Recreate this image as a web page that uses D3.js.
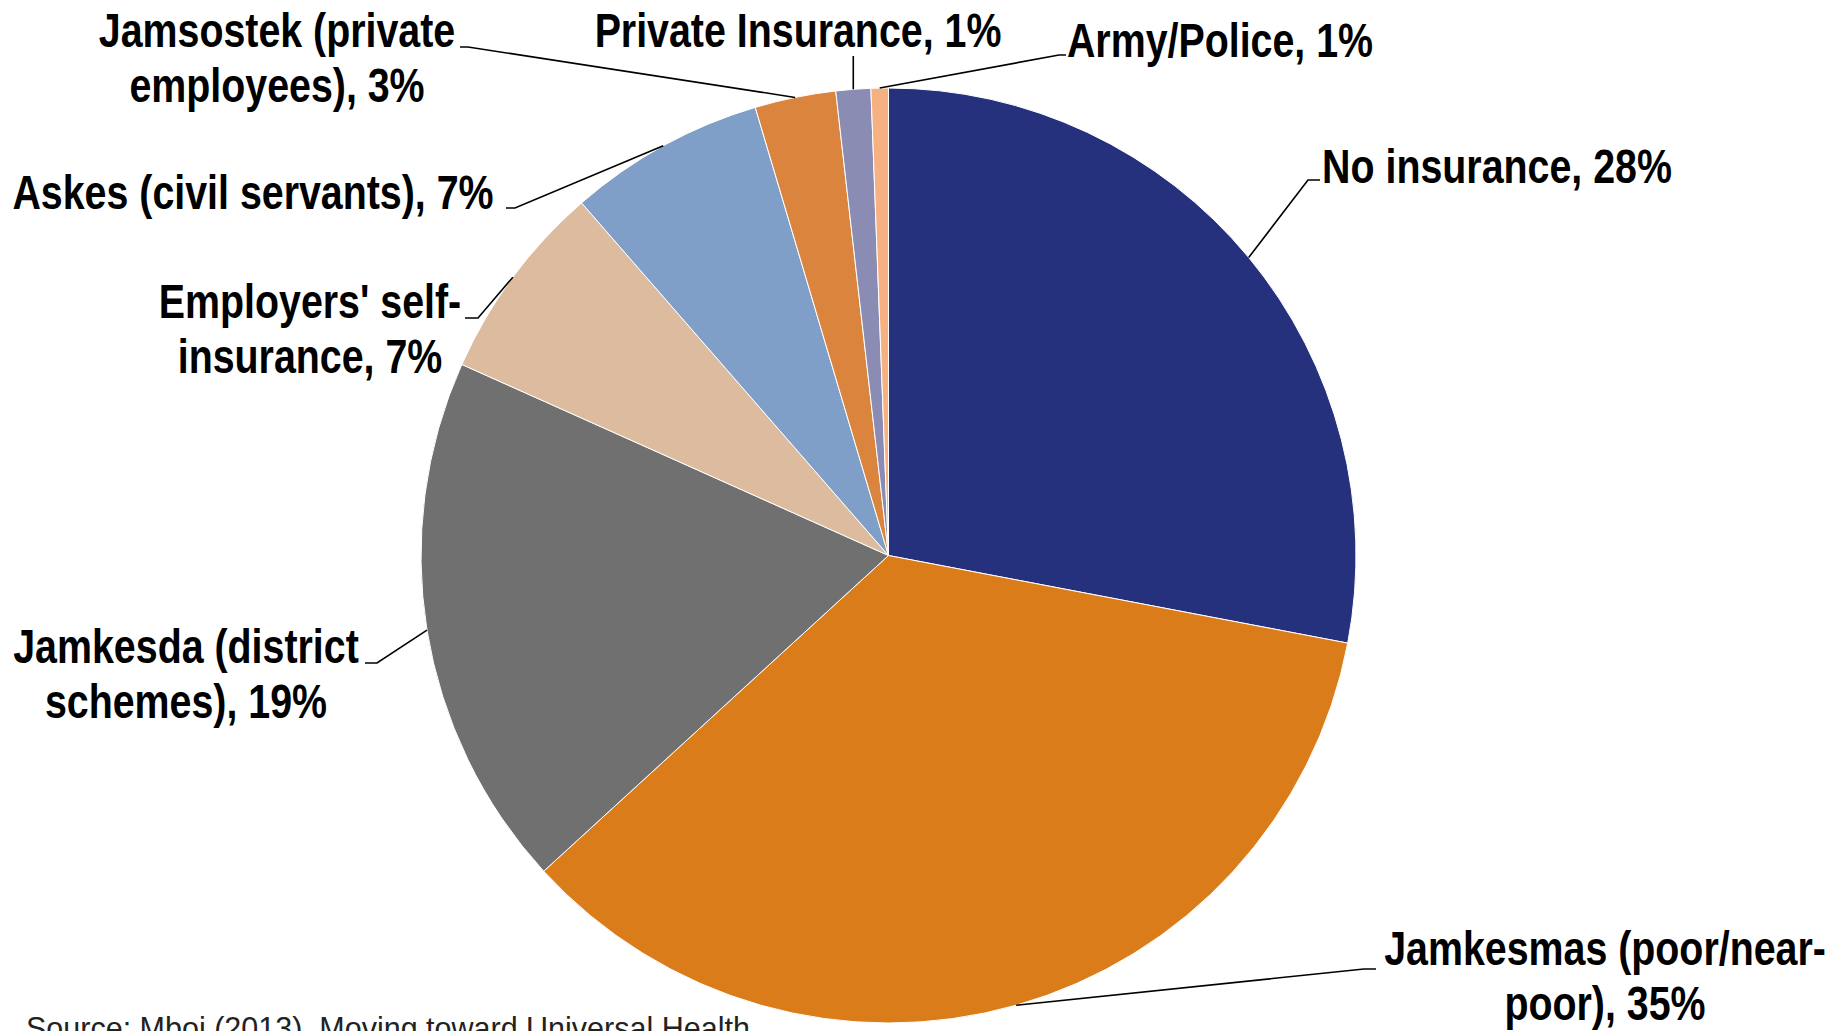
<!DOCTYPE html>
<html>
<head>
<meta charset="utf-8">
<script src="https://cdn.jsdelivr.net/npm/d3@7"></script>
<style>
  html, body { margin: 0; padding: 0; background: #fff; overflow: hidden; }
  svg { display: block; }
</style>
</head>
<body>
<svg id="chart"></svg>
<script>
// Health insurance coverage in Indonesia, share of population (%)
const categories = [
  "No insurance",
  "Jamkesmas (poor/near-poor)",
  "Jamkesda (district schemes)",
  "Employers' self-insurance",
  "Askes (civil servants)",
  "Jamsostek (private employees)",
  "Private Insurance",
  "Army/Police"
];
const values = [28.0, 35.2, 18.5, 6.9, 6.8, 2.8, 1.2, 0.6];
const labelText = [
  ["No insurance, 28%"],
  ["Jamkesmas (poor/near-", "poor), 35%"],
  ["Jamkesda (district", "schemes), 19%"],
  ["Employers' self-", "insurance, 7%"],
  ["Askes (civil servants), 7%"],
  ["Jamsostek (private", "employees), 3%"],
  ["Private Insurance, 1%"],
  ["Army/Police, 1%"]
];
const colors = ["#26317d", "#db7c1a", "#707070", "#ddbb9e", "#7f9fc9", "#db843d", "#8a8cb3", "#f6b183"];
const sourceText = "Source: Mboi (2013), Moving toward Universal Health";

// label placement: text centre x, first baseline y, leader elbow and end
const labelLayout = [
  { cx: 1497, y: 183, elbow: [1308, 180], end: [1320, 180] },
  { cx: 1605, y: 965, elbow: [1364, 969], end: [1376, 969] },
  { cx: 186,  y: 663, elbow: [377, 663],  end: [365, 663] },
  { cx: 310,  y: 318, elbow: [478, 318],  end: [465, 318] },
  { cx: 253,  y: 209, elbow: [515, 208],  end: [506, 208] },
  { cx: 277,  y: 47,  elbow: [468, 47],   end: [460, 47] },
  { cx: 798,  y: 47,  elbow: null,        end: null, vertical: 56 },
  { cx: 1220, y: 57,  elbow: [1059, 55],  end: [1066, 55] }
];

const W = 1835, H = 1031;
const cx = 888.5, cy = 555.5, R = 467.5;
const NARROW = 0.82; // Arial Narrow ~ Arial squeezed horizontally

const svg = d3.select("#chart").attr("width", W).attr("height", H).attr("viewBox", `0 0 ${W} ${H}`);

const data = categories.map((c, i) => ({ name: c, value: values[i], i }));
const pie = d3.pie().value(d => d.value).sort(null);
const arcs = pie(data);
const arc = d3.arc().innerRadius(0).outerRadius(R);

const g = svg.append("g").attr("transform", `translate(${cx},${cy})`);

g.selectAll("path.slice")
  .data(arcs).join("path")
  .attr("class", "slice")
  .attr("d", arc)
  .attr("fill", d => colors[d.data.i])
  .attr("stroke", "#fff")
  .attr("stroke-width", 1);

// leader lines
arcs.forEach(a => {
  const L = labelLayout[a.data.i];
  const mid = (a.startAngle + a.endAngle) / 2;
  const px = cx + R * Math.sin(mid), py = cy - R * Math.cos(mid);
  let pts;
  if (L.vertical != null) pts = [[px, py], [px, L.vertical]];
  else pts = [[px, py], L.elbow, L.end];
  svg.append("path")
    .attr("d", d3.line()(pts))
    .attr("fill", "none")
    .attr("stroke", "#000")
    .attr("stroke-width", 1.6);
});

// labels
labelLayout.forEach((L, i) => {
  const t = svg.append("text")
    .attr("transform", `translate(${L.cx},${L.y}) scale(${NARROW},1)`)
    .attr("text-anchor", "middle")
    .style("font-family", "'Liberation Sans',Arial,sans-serif")
    .style("font-weight", "bold")
    .style("font-size", "48px")
    .style("fill", "#000");
  labelText[i].forEach((line, j) => {
    t.append("tspan").attr("x", 0).attr("y", j * 55).text(line);
  });
});

svg.append("text")
  .attr("x", 26).attr("y", 1039)
  .style("font-family", "'Liberation Sans',Arial,sans-serif")
  .style("font-size", "30.5px")
  .style("fill", "#222")
  .text(sourceText);
</script>
</body>
</html>
